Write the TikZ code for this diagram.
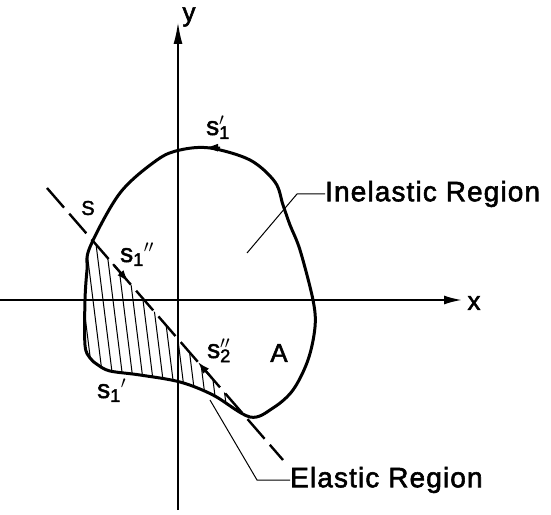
\documentclass[tikz,border=0pt]{standalone}
\usepackage{fontspec}
\setmainfont{Liberation Sans}
\newfontfamily\lettering[LetterSpace=4,FakeBold=2]{Liberation Sans}
\usetikzlibrary{arrows.meta,calc}

\newcommand{\slab}[2]{s\textsubscript{#1}$#2$}
\newcommand{\sstack}[2]{s\rlap{\textsubscript{#1}}$#2$}

\begin{document}
\begin{tikzpicture}[x=1pt,y=1pt,
  outline/.style={line width=3pt},
  axis/.style={line width=2pt},
  thinline/.style={line width=1pt},
  lbl/.style={inner sep=0pt,font=\lettering\fontsize{26}{28}\selectfont},
  biglbl/.style={inner sep=0pt,font=\lettering\fontsize{28}{30}\selectfont,anchor=west}]
\useasboundingbox (-178,-214) rectangle (373,300);

% boundary of the body
\path[save path=\blobpath] plot[smooth cycle,tension=0.55] coordinates {
  (-88,53) (-58,107) (-21,140) (2,150) (32,152) (72,140) (97,118) (105,95)
  (112,75) (122,50) (135,0) (137,-27) (130,-60) (115,-90) (95,-108) (72,-117)
  (35,-95) (2,-82) (-38,-75) (-68,-71) (-80,-65) (-88,-58) (-93,-45) (-93,0) (-91,30)};

% the dashed line S
\coordinate (S1) at (-131,112);
\coordinate (S2) at (105,-160);

% hatching of the elastic part
\begin{scope}
\clip[use path=\blobpath];
\clip ($(S1)!-0.5!(S2)$) -- ($(S1)!1.5!(S2)$) -- (-249,-296) -- cycle;
\foreach \h in {-150,-140,...,80}
  \draw[thinline] (\h,120) -- ++(45,-360);
\end{scope}

\draw[line width=2.4pt,dash pattern=on 26pt off 8pt] (S1) -- (S2);
\draw[outline,use path=\blobpath];

% axes
\coordinate (ybot) at (0,-210);
\coordinate (ytop) at (0,278);
\coordinate (xlft) at (-178,0);
\coordinate (xrgt) at (284,0);
\draw[axis,-{Latex[length=22pt,width=9pt]}] (ybot) -- (ytop);
\draw[axis,-{Latex[length=18pt,width=9pt]}] (xlft) -- (xrgt);
\node[lbl] (ylab) at (11,283) {y};
\node[lbl] (xlab) at (296,-3) {x};

% arrows along the boundary and along S
\draw[line width=2pt,-{Latex[length=13pt,width=8pt]}] (42,152.3) -- (27,152.4);
\draw[line width=2pt,-{Latex[length=12pt,width=8pt]}] ($(S1)!0.28!(S2)$) -- ($(S1)!0.345!(S2)$);
\draw[line width=2pt,-{Latex[length=12pt,width=8pt]}] ($(S1)!0.70!(S2)$) -- ($(S1)!0.64!(S2)$);

% labels
\node[lbl,font=\lettering\fontsize{20}{22}\selectfont] (slab) at (-90,92) {S};
\node[lbl,font=\lettering\fontsize{26}{28}\selectfont] (alab) at (101,-53) {A};
\node[lbl,anchor=base west] (s1top) at (28,165) {\sstack{1}{'}};
\node[lbl,anchor=base west] (s1dd) at (-58,38) {\slab{1}{''}};
\node[lbl,anchor=base west] (s1bot) at (-81,-98) {\slab{1}{'}};
\node[lbl,anchor=base west] (s2dd) at (29,-58) {\sstack{2}{''}};

% region names with leaders
\node[biglbl] (inel) at (147,106) {Inelastic Region};
\coordinate (inelpt) at (69,47);
\draw[thinline] (inelpt) -- (119,106) -- (inel.west);
\node[biglbl] (elas) at (112,-180) {Elastic Region};
\coordinate (elaspt) at (32,-100);
\draw[thinline] (elaspt) -- (79,-180) -- (elas.west);
\end{tikzpicture}
\end{document}
